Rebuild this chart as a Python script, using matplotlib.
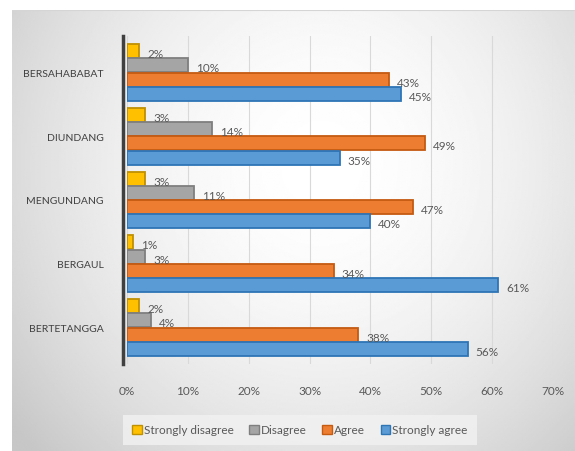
import numpy as np
import matplotlib
matplotlib.use("Agg")
import matplotlib.pyplot as plt
from matplotlib.patches import Patch

# data (percent)
categories = ["BERSAHABABAT", "DIUNDANG", "MENGUNDANG", "BERGAUL", "BERTETANGGA"]
series_names = ["Strongly disagree", "Disagree", "Agree", "Strongly agree"]
strongly_disagree = [2, 3, 3, 1, 2]
disagree = [10, 14, 11, 3, 4]
agree = [43, 49, 47, 34, 38]
strongly_agree = [45, 35, 40, 61, 56]
x_ticks = [0, 10, 20, 30, 40, 50, 60, 70]

fills = ["#FFC000", "#A5A5A5", "#ED7D31", "#5B9BD5"]
edges = ["#BF9000", "#7F7F7F", "#C55A11", "#2E75B6"]

plt.rcParams['font.family'] = ['Lato', 'DejaVu Sans']

fig = plt.figure(figsize=(5.75, 4.52), dpi=100)
fig.patch.set_facecolor("white")

# gradient panel behind the chart
bg = fig.add_axes([12 / 575, 0, 1 - 12 / 575, 1 - 11 / 452], zorder=-5)
yy, xx = np.mgrid[0:1:300j, 0:1:400j]
r = np.sqrt(((xx - 0.55) / 0.7) ** 2 + ((yy - 0.35) / 0.95) ** 2)
shade = 1.0 - 0.22 * np.clip(r, 0, 1) ** 1.8
bg.imshow(shade, cmap="gray", vmin=0, vmax=1, aspect="auto",
          extent=[0, 1, 0, 1], origin="upper")
bg.axhline(1, color="#d5d5d5", lw=1.5)
bg.axis("off")

ax = fig.add_axes([127 / 575, 1 - 365 / 452, 426 / 575, 328 / 452])
ax.set_facecolor("none")

y = np.arange(len(categories))[::-1].astype(float)
h = 0.224
values = [strongly_disagree, disagree, agree, strongly_agree]
offsets = [1.5 * h, 0.5 * h, -0.5 * h, -1.5 * h]

for vals, off, fc, ec, name in zip(values, offsets, fills, edges, series_names):
    ypos = y + off
    ax.barh(ypos, vals, height=h * 0.98, color=fc, edgecolor=ec,
            linewidth=1.3, label=name, zorder=3)
    for yp, v in zip(ypos, vals):
        ax.text(v + 1.3, yp - 0.04, f"{v}%", va="center", ha="left",
                fontsize=8.5, color="#595959", zorder=4)

ax.set_xlim(0, 70)
ax.set_ylim(-0.5725, 4.5725)
ax.set_xticks(x_ticks)
ax.set_xticklabels([f"{t}%" for t in x_ticks])
ax.set_yticks(y)
ax.set_yticklabels(categories)
ax.tick_params(axis="both", length=0)
ax.tick_params(axis="x", pad=15, labelsize=8.5, labelcolor="#595959")
ax.tick_params(axis="y", pad=14, labelsize=7.5, labelcolor="#404040")

ax.grid(axis="x", color="#d9d9d9", linewidth=0.8, zorder=0)
for side in ["top", "right", "bottom"]:
    ax.spines[side].set_visible(False)
ax.spines["left"].set_color("#404040")
ax.spines["left"].set_linewidth(2.5)
ax.spines["left"].set_position(("outward", 3))

handles = [Patch(facecolor=fc, edgecolor=ec, label=n)
           for fc, ec, n in zip(fills, edges, series_names)]
leg = fig.legend(handles=handles, loc="center", ncol=4,
                 bbox_to_anchor=(300 / 575, 1 - 431 / 452),
                 fontsize=8.5, frameon=True, fancybox=False,
                 handlelength=0.8, handleheight=0.8, handletextpad=0.2,
                 columnspacing=1.3, borderpad=0.8)
leg.get_frame().set_facecolor("#f2f2f2")
leg.get_frame().set_edgecolor("none")
for t in leg.get_texts():
    t.set_color("#595959")

fig.savefig("out.png", dpi=100)
